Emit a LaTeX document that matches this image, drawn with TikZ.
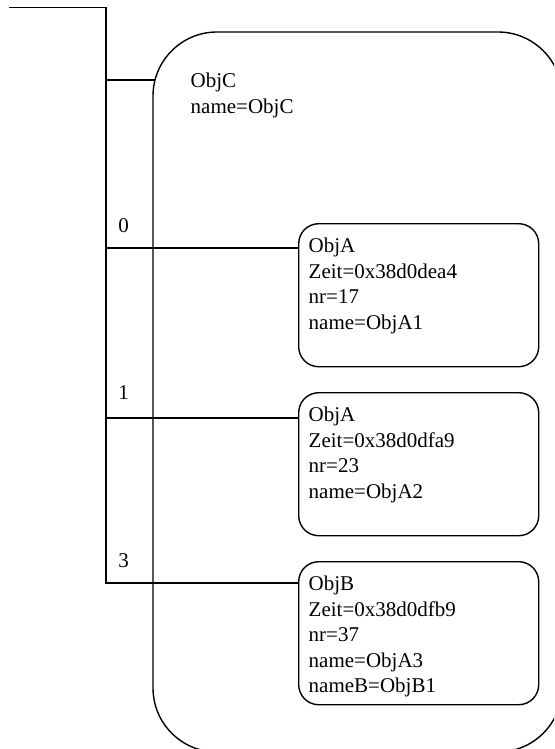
\documentclass[tikz,border=0pt]{standalone}
\usepackage{fontspec}
\setmainfont{Liberation Serif}
\usetikzlibrary{calc}
\begin{document}
\begin{tikzpicture}[x=1pt,y=-1pt,line width=1.4pt,
  objbox/.style={draw,rounded corners=20pt,minimum width=240pt,minimum height=143pt,anchor=north west,inner sep=0pt},
  objtext/.style={anchor=north west,align=left,inner sep=0pt,font=\fontsize{21}{25.5}\selectfont},
  idx/.style={anchor=base,inner sep=0pt,font=\fontsize{21}{25.5}\selectfont}]
\useasboundingbox (0,0) rectangle (554,749);
\clip (0,0) rectangle (554,749);
% big container
\draw[rounded corners=64pt] (153,32) rectangle (562,752);
\node[objtext] (ctext) at (190,72.5) {ObjC\\name=ObjC};
% child boxes
\node[objbox] (a1) at (298,223) {};
\node[objbox] (a2) at (298,392) {};
\node[objbox] (b1) at (298,561) {};
\node[objtext] (t1) at ($(a1.north west)+(10,14.5)$) {ObjA\\Zeit=0x38d0dea4\\nr=17\\name=ObjA1};
\node[objtext] (t2) at ($(a2.north west)+(10,14.5)$) {ObjA\\Zeit=0x38d0dfa9\\nr=23\\name=ObjA2};
\node[objtext] (t3) at ($(b1.north west)+(10,14.5)$) {ObjB\\Zeit=0x38d0dfb9\\nr=37\\name=ObjA3\\nameB=ObjB1};
% index labels
\node[idx] (i0) at (123.5,232) {0};
\node[idx] (i1) at (123.5,399) {1};
\node[idx] (i3) at (123.5,567) {3};
% trunk
\coordinate (s) at (9,7.5);
\coordinate (t) at (106,7.5);
\coordinate (c0) at (106,80);
\coordinate (cC) at (155,80);
\coordinate (c1) at (106,248);
\coordinate (c2) at (106,418);
\coordinate (c3) at (106,583);
\draw (s) -- (t) -- (c3) -- (c3 -| b1.west);
\draw (c0) -- (cC);
\draw (c1) -- (c1 -| a1.west);
\draw (c2) -- (c2 -| a2.west);
\end{tikzpicture}
\end{document}
